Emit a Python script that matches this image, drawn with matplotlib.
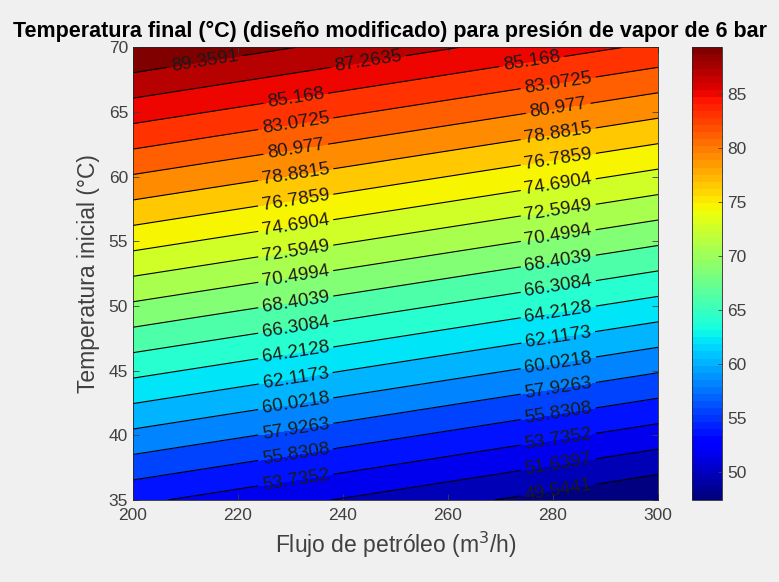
import numpy as np
import matplotlib
matplotlib.use("Agg")
import matplotlib.pyplot as plt
from matplotlib.colors import Normalize
from matplotlib.cm import ScalarMappable

# ------------------------------------------------------------
# Datos

flujo = [200, 300]            # m3/h
temp_inicial = [35, 70]       # degC

# temperatura final en las esquinas (filas: temp_inicial, columnas: flujo)
temp_final = [
    [54.18, 47.45],
    [91.45, 84.72],
]

niveles = [49.5441, 51.6397, 53.7352, 55.8308, 57.9263, 60.0218, 62.1173,
           64.2128, 66.3084, 68.4039, 70.4994, 72.5949, 74.6904, 76.7859,
           78.8815, 80.977, 83.0725, 85.168, 87.2635, 89.3591]

clim = [47.4486, 89.3591]

x_ticks = [200, 220, 240, 260, 280, 300]
y_ticks = [35, 40, 45, 50, 55, 60, 65, 70]
cb_ticks = [50, 55, 60, 65, 70, 75, 80, 85]

# ------------------------------------------------------------
# Estilo

plt.rcParams["font.family"] = ["Liberation Sans", "DejaVu Sans"]
gris = "#404040"

F, T = np.meshgrid(flujo, temp_inicial)
Z = np.array(temp_final)

cmap = plt.get_cmap("jet", 64)
norm = Normalize(vmin=clim[0], vmax=clim[1])

# limites de relleno, color = nivel inferior (como MATLAB)
bordes = [Z.min() - 0.01] + niveles + [Z.max() + 0.01]
colores = [cmap(norm(max(b, clim[0]))) for b in bordes[:-1]]

fig = plt.figure(figsize=(7.79, 5.82), dpi=100, facecolor="#f0f0f0")
ax = fig.add_axes([0.1707, 0.1409, 0.6740, 0.7778])

ax.contourf(F, T, Z, levels=bordes, colors=colores)
cs = ax.contour(F, T, Z, levels=niveles, colors="k", linewidths=0.8)

# ------------------------------------------------------------
# Posiciones de etiquetas (dos columnas, como en la figura)

cols = [231, 281]
y_hi, y_lo = 68.9, 35.3
posiciones = []
for lev in niveles:
    pts = []
    for xc in cols:
        zb = np.interp(xc, flujo, Z[0])
        zt = np.interp(xc, flujo, Z[1])
        y = temp_inicial[0] + (lev - zb) / (zt - zb) * (temp_inicial[1] - temp_inicial[0])
        if y > y_hi:
            z200 = np.interp(y_hi, temp_inicial, Z[:, 0])
            z300 = np.interp(y_hi, temp_inicial, Z[:, 1])
            xc = np.interp(lev, [z300, z200], [flujo[1], flujo[0]])
            y = y_hi
        if y < y_lo or xc < 205:
            continue
        if pts and abs(pts[-1][0] - xc) < 25:
            pts[-1] = (xc, y)
        else:
            pts.append((xc, y))
    posiciones += pts

ax.clabel(cs, manual=posiciones, inline=True, inline_spacing=4,
          fontsize=13.5, fmt=lambda v: f"{v:g}", colors="#1a1a1a")

# ------------------------------------------------------------
# Ejes

ax.set_xlim(200, 300)
ax.set_ylim(35, 70)
ax.set_xticks(x_ticks)
ax.set_yticks(y_ticks)
ax.tick_params(direction="in", length=4, width=0.6, colors=gris,
               labelsize=12.5, top=True, right=True)
ax.tick_params(axis="x", pad=6)
for s in ax.spines.values():
    s.set_color("#262626")
    s.set_linewidth(0.6)

ax.set_xlabel("Flujo de petróleo (m$^3$/h)", fontsize=16.5, color=gris, labelpad=5)
ax.set_ylabel("Temperatura inicial (°C)", fontsize=16.5, color=gris, labelpad=6)
fig.text(390 / 779, 1 - 37 / 582,
         "Temperatura final (°C) (diseño modificado) para presión de vapor de 6 bar",
         fontsize=15.5, fontweight="bold", color="black", ha="center", va="baseline")

cax = fig.add_axes([0.8883, 0.1409, 0.0385, 0.7778])
cb = fig.colorbar(ScalarMappable(norm=norm, cmap=cmap), cax=cax)
cb.set_ticks(cb_ticks)
cb.ax.tick_params(direction="in", length=3, width=0.6, colors=gris, labelsize=12.5)
cb.outline.set_linewidth(0.6)
cb.outline.set_edgecolor("#262626")

fig.savefig("out.png", dpi=100, facecolor=fig.get_facecolor())
